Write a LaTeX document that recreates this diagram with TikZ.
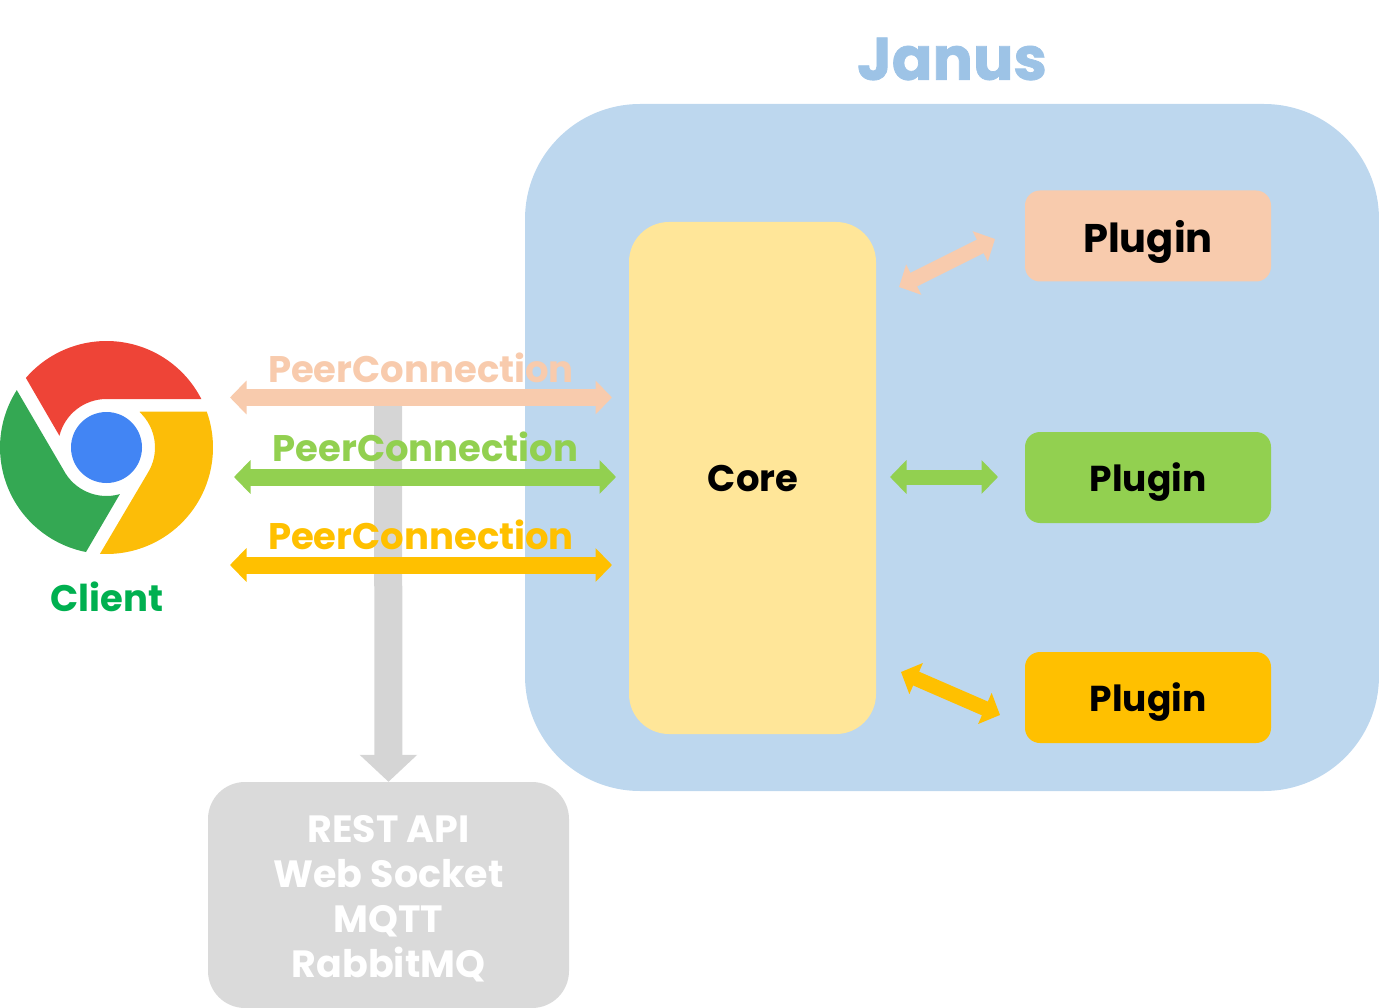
\documentclass[tikz,border=0pt]{standalone}
\usepackage{fontspec}
\setmainfont{Poppins}
\newfontfamily\heavyfont[FakeBold=1.2]{Poppins Bold}
\usetikzlibrary{arrows.meta,positioning}
\definecolor{panelblue}{HTML}{BDD7EE}
\definecolor{titleblue}{HTML}{9DC3E6}
\definecolor{corey}{HTML}{FFE699}
\definecolor{peach}{HTML}{F8CBAD}
\definecolor{leaf}{HTML}{92D050}
\definecolor{gold}{HTML}{FFC000}
\definecolor{restgray}{HTML}{DADADA}
\definecolor{arrowgray}{HTML}{D5D5D5}
\definecolor{cred}{HTML}{EE4437}
\definecolor{cgreen}{HTML}{34A853}
\definecolor{cyellow}{HTML}{FCBD08}
\definecolor{cblue}{HTML}{4285F4}
\definecolor{clientgreen}{HTML}{00B050}
\tikzset{
  boxy/.style={inner sep=0pt,font=\bfseries\fontsize{#1}{#1}\selectfont},
  pluginbox/.style={boxy=36,text depth=0pt,rounded corners=15pt,minimum width=246pt,minimum height=91pt},
  peerlabel/.style={boxy=37,inner sep=0pt},
  biarrow/.style={draw=#1,line width=17pt,{Triangle[width=33pt,length=16.5pt]}-{Triangle[width=33pt,length=16.5pt]}}
}
\begin{document}
\begin{tikzpicture}[x=1pt,y=-1pt]
\useasboundingbox (0,0) rectangle (1379,1008);
\fill [panelblue, rounded corners=115pt] (525,104) rectangle (1379,791);
\node [inner sep=0pt,font=\heavyfont\fontsize{60}{60}\selectfont,text=titleblue] (janus) at (952,59) {Janus};
\node [fill=corey,rounded corners=40pt,minimum width=247pt,minimum height=512pt] (core) at (752.5,478) {};
\node [boxy=37] (coretext) at (753,479) {Core};
\node [pluginbox,fill=peach,boxy=40] (plugina) at (1148,236) {Plugin};
\node [pluginbox,fill=leaf] (pluginb) at (1148,477.5) {Plugin};
\node [pluginbox,fill=gold] (pluginc) at (1148,697.5) {Plugin};
\node [fill=restgray,rounded corners=37pt,minimum width=361pt,minimum height=226pt] (rest) at (388.5,895) {};
\node [inner sep=0pt,font=\bfseries\fontsize{38}{45}\selectfont,text=white,align=center] (resttext) at (388.5,899) {REST API\\Web Socket\\MQTT\\RabbitMQ};
% gray arrow down to the rest box
\coordinate (reststart) at (388,397);
\draw [arrowgray,line width=28pt,-{Triangle[width=56pt,length=27pt]}] (reststart) -- (rest.north);
% logo
\begin{scope}[shift={(106.5,447.5)},yscale=-1]
\fill [cred] (139.2:106.5) arc (139.2:27:106.5) -- (0,48.5) arc (90:166:48.5) -- cycle;
\fill [cgreen] (147.4:106.5) arc (147.4:258.9:106.5) -- (286:48.5) arc (286:207.6:48.5) -- cycle;
\fill [cyellow] (47:49) -- (19.7:106.5) arc (19.7:-93.5:106.5) -- (-32:48.5) arc (-32:47:48.5) -- cycle;
\fill [cblue] (0,0) circle (35.5);
\end{scope}
\node [boxy=37,text=clientgreen] (client) at (107,597) {Client};
% peer connections
\coordinate (pa) at (230,397.5);
\coordinate (pb) at (612,397.5);
\coordinate (ga) at (234,477);
\coordinate (gb) at (616,477);
\coordinate (ya) at (230,565);
\coordinate (yb) at (612,565);
\draw [biarrow=peach] (pa) -- (pb);
\draw [biarrow=leaf] (ga) -- (gb);
\draw [biarrow=gold] (ya) -- (yb);
\node [peerlabel,text=peach] (peera) at (421,367.5) {PeerConnection};
\node [peerlabel,text=leaf] (peerb) at (425.5,446.5) {PeerConnection};
\node [peerlabel,text=gold] (peerc) at (421,534.5) {PeerConnection};
% core to plugins
\coordinate (ca) at (899,287);
\coordinate (cb) at (890,477);
\coordinate (cc) at (901,672);
\coordinate (da) at (995,239);
\coordinate (db) at (998,477);
\coordinate (dc) at (1000,715);
\draw [biarrow=peach,line width=15pt] (ca) -- (da);
\draw [biarrow=leaf,line width=15pt] (cb) -- (db);
\draw [biarrow=gold,line width=15pt] (cc) -- (dc);
\end{tikzpicture}
\end{document}
